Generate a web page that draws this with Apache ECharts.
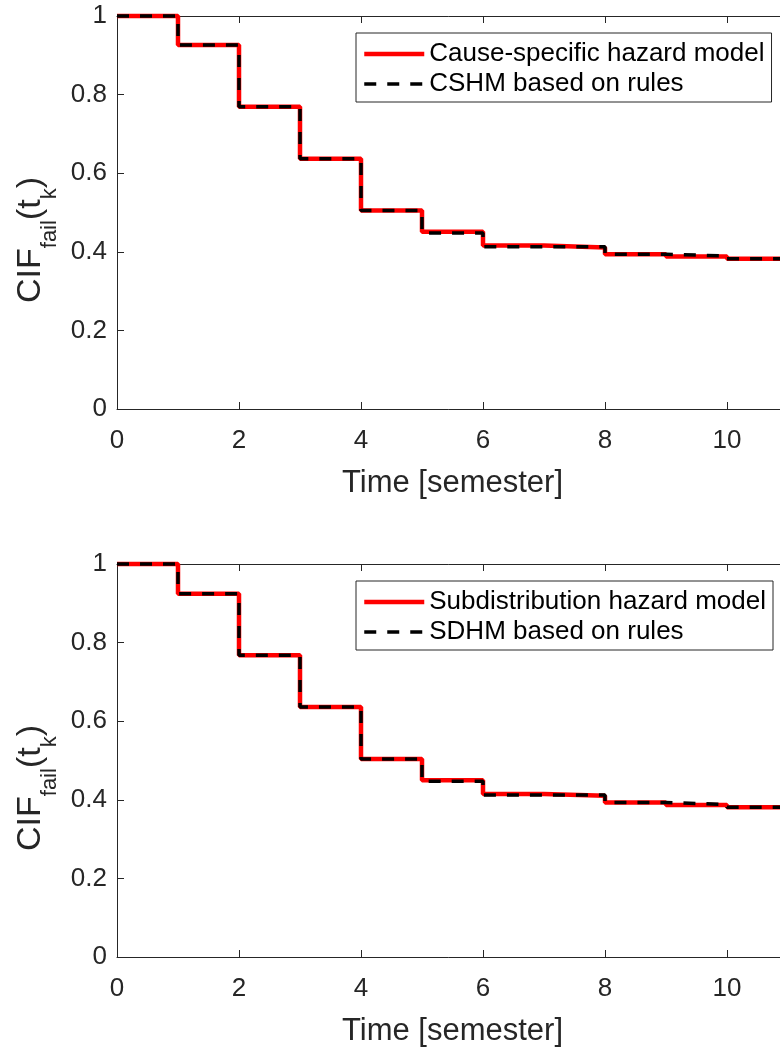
<!DOCTYPE html>
<html>
<head>
<meta charset="utf-8">
<script src="https://cdn.jsdelivr.net/npm/echarts@6/dist/echarts.min.js"></script>
<style>
  html, body { margin: 0; padding: 0; background: #fff; }
  #chart { width: 780px; height: 1049px; }
</style>
</head>
<body>
<div id="chart"></div>
<script>
// Time points (semesters) at which the step functions change
const times = [0, 1, 2, 3, 4, 5, 6, 7, 8, 9, 10, 11];

// Top panel: cause-specific hazard model vs. rule-based CSHM
const cshmValues      = [1.000, 0.926, 0.769, 0.637, 0.505, 0.451, 0.416, 0.411, 0.394, 0.388, 0.382, 0.382];
const cshmRuleValues  = [1.000, 0.926, 0.769, 0.637, 0.505, 0.448, 0.413, 0.413, 0.394, 0.389, 0.382, 0.382];

// Bottom panel: subdistribution hazard model vs. rule-based SDHM
const sdhmValues      = [1.000, 0.924, 0.768, 0.636, 0.504, 0.450, 0.415, 0.410, 0.393, 0.387, 0.381, 0.381];
const sdhmRuleValues  = [1.000, 0.924, 0.768, 0.636, 0.504, 0.447, 0.412, 0.412, 0.393, 0.388, 0.381, 0.381];

const xRange = [0, 11];
const xTicks = [0, 2, 4, 6, 8, 10];
const yTicks = [0, 0.2, 0.4, 0.6, 0.8, 1];

const topNames = ['Cause-specific hazard model', 'CSHM based on rules'];
const bottomNames = ['Subdistribution hazard model', 'SDHM based on rules'];

const xTitle = 'Time [semester]';

const FONT = '"Liberation Sans", Arial, Helvetica, sans-serif';
const AXIS_COLOR = '#262626';
const RED = '#ff0000';
const BLACK = '#000000';
const SOLID_STYLE = { color: RED, width: 4.5, type: 'solid' };
const DASH_STYLE = { color: BLACK, width: 3.5, type: [12, 11], cap: 'butt' };

const pairs = (xs, ys) => xs.map((x, i) => [x, ys[i]]);

// The plot area runs slightly past the right edge of the page
const grids = [
  { left: 117, top: 16, width: 671, height: 393, containLabel: false, outerBoundsMode: 'none' },
  { left: 117, top: 564, width: 671, height: 393, containLabel: false, outerBoundsMode: 'none' }
];

function bottomXAxis(gridIndex) {
  return {
    type: 'value', gridIndex, position: 'bottom',
    min: xRange[0], max: xRange[1],
    name: xTitle, nameLocation: 'middle', nameGap: 59,
    nameTextStyle: { fontSize: 31, color: AXIS_COLOR, fontFamily: FONT },
    axisLine: { show: true, lineStyle: { color: AXIS_COLOR, width: 1 } },
    axisTick: { show: true, inside: true, length: 7, customValues: xTicks, lineStyle: { color: AXIS_COLOR } },
    axisLabel: { fontSize: 26, color: AXIS_COLOR, fontFamily: FONT, margin: 19, customValues: xTicks },
    splitLine: { show: false }
  };
}
function topXAxis(gridIndex) {
  return {
    type: 'value', gridIndex, position: 'top',
    min: xRange[0], max: xRange[1],
    axisLine: { show: true, onZero: false, lineStyle: { color: AXIS_COLOR, width: 1 } },
    axisTick: { show: true, inside: true, length: 7, customValues: xTicks, lineStyle: { color: AXIS_COLOR } },
    axisLabel: { show: false },
    splitLine: { show: false }
  };
}
function leftYAxis(gridIndex) {
  return {
    type: 'value', gridIndex, position: 'left',
    min: yTicks[0], max: yTicks[yTicks.length - 1], interval: 0.2,
    axisLine: { show: true, onZero: false, lineStyle: { color: AXIS_COLOR, width: 1 } },
    axisTick: { show: true, inside: true, length: 7, lineStyle: { color: AXIS_COLOR } },
    axisLabel: { fontSize: 26, color: AXIS_COLOR, fontFamily: FONT, margin: 10 },
    splitLine: { show: false }
  };
}

function stepSeries(name, xAxisIndex, yAxisIndex, values, solid) {
  return {
    name, type: 'line', step: 'end',
    xAxisIndex, yAxisIndex,
    data: pairs(times, values),
    symbol: 'none', animation: false, clip: false,
    z: solid ? 2 : 3,
    lineStyle: solid ? SOLID_STYLE : DASH_STYLE,
    itemStyle: { color: solid ? RED : BLACK }
  };
}

function legendAt(top, names) {
  return {
    data: [
      { name: names[0], lineStyle: SOLID_STYLE, itemStyle: { opacity: 0 } },
      { name: names[1], lineStyle: DASH_STYLE, itemStyle: { opacity: 0 } }
    ],
    orient: 'vertical', left: 356, top,
    itemWidth: 60, itemHeight: 14, itemGap: 2,
    padding: [7, 7, 4, 6],
    itemStyle: { opacity: 0 },
    borderColor: AXIS_COLOR, borderWidth: 1, backgroundColor: '#ffffff',
    textStyle: { fontSize: 26, lineHeight: 28, color: '#000', fontFamily: FONT },
    selectedMode: false
  };
}

function yTitle(cy) {
  return {
    type: 'text', x: 31, y: cy, rotation: Math.PI / 2,
    style: {
      text: '{a|CIF}{s|fail}{a|(t}{s|k}{a|)}',
      align: 'center', verticalAlign: 'middle',
      fill: AXIS_COLOR,
      rich: {
        a: { fontSize: 34, lineHeight: 60, fontFamily: FONT, fill: AXIS_COLOR },
        s: { fontSize: 22, lineHeight: 22, verticalAlign: 'bottom', fontFamily: FONT, fill: AXIS_COLOR }
      }
    }
  };
}

const chart = echarts.init(document.getElementById('chart'), null, { renderer: 'canvas' });
chart.setOption({
  backgroundColor: '#ffffff',
  animation: false,
  grid: grids,
  xAxis: [bottomXAxis(0), topXAxis(0), bottomXAxis(1), topXAxis(1)],
  yAxis: [leftYAxis(0), leftYAxis(1)],
  legend: [legendAt(33, topNames), legendAt(581, bottomNames)],
  series: [
    stepSeries(topNames[0], 0, 0, cshmValues, true),
    stepSeries(topNames[1], 0, 0, cshmRuleValues, false),
    stepSeries(bottomNames[0], 2, 1, sdhmValues, true),
    stepSeries(bottomNames[1], 2, 1, sdhmRuleValues, false)
  ],
  graphic: [yTitle(240), yTitle(788)]
});
</script>
</body>
</html>
